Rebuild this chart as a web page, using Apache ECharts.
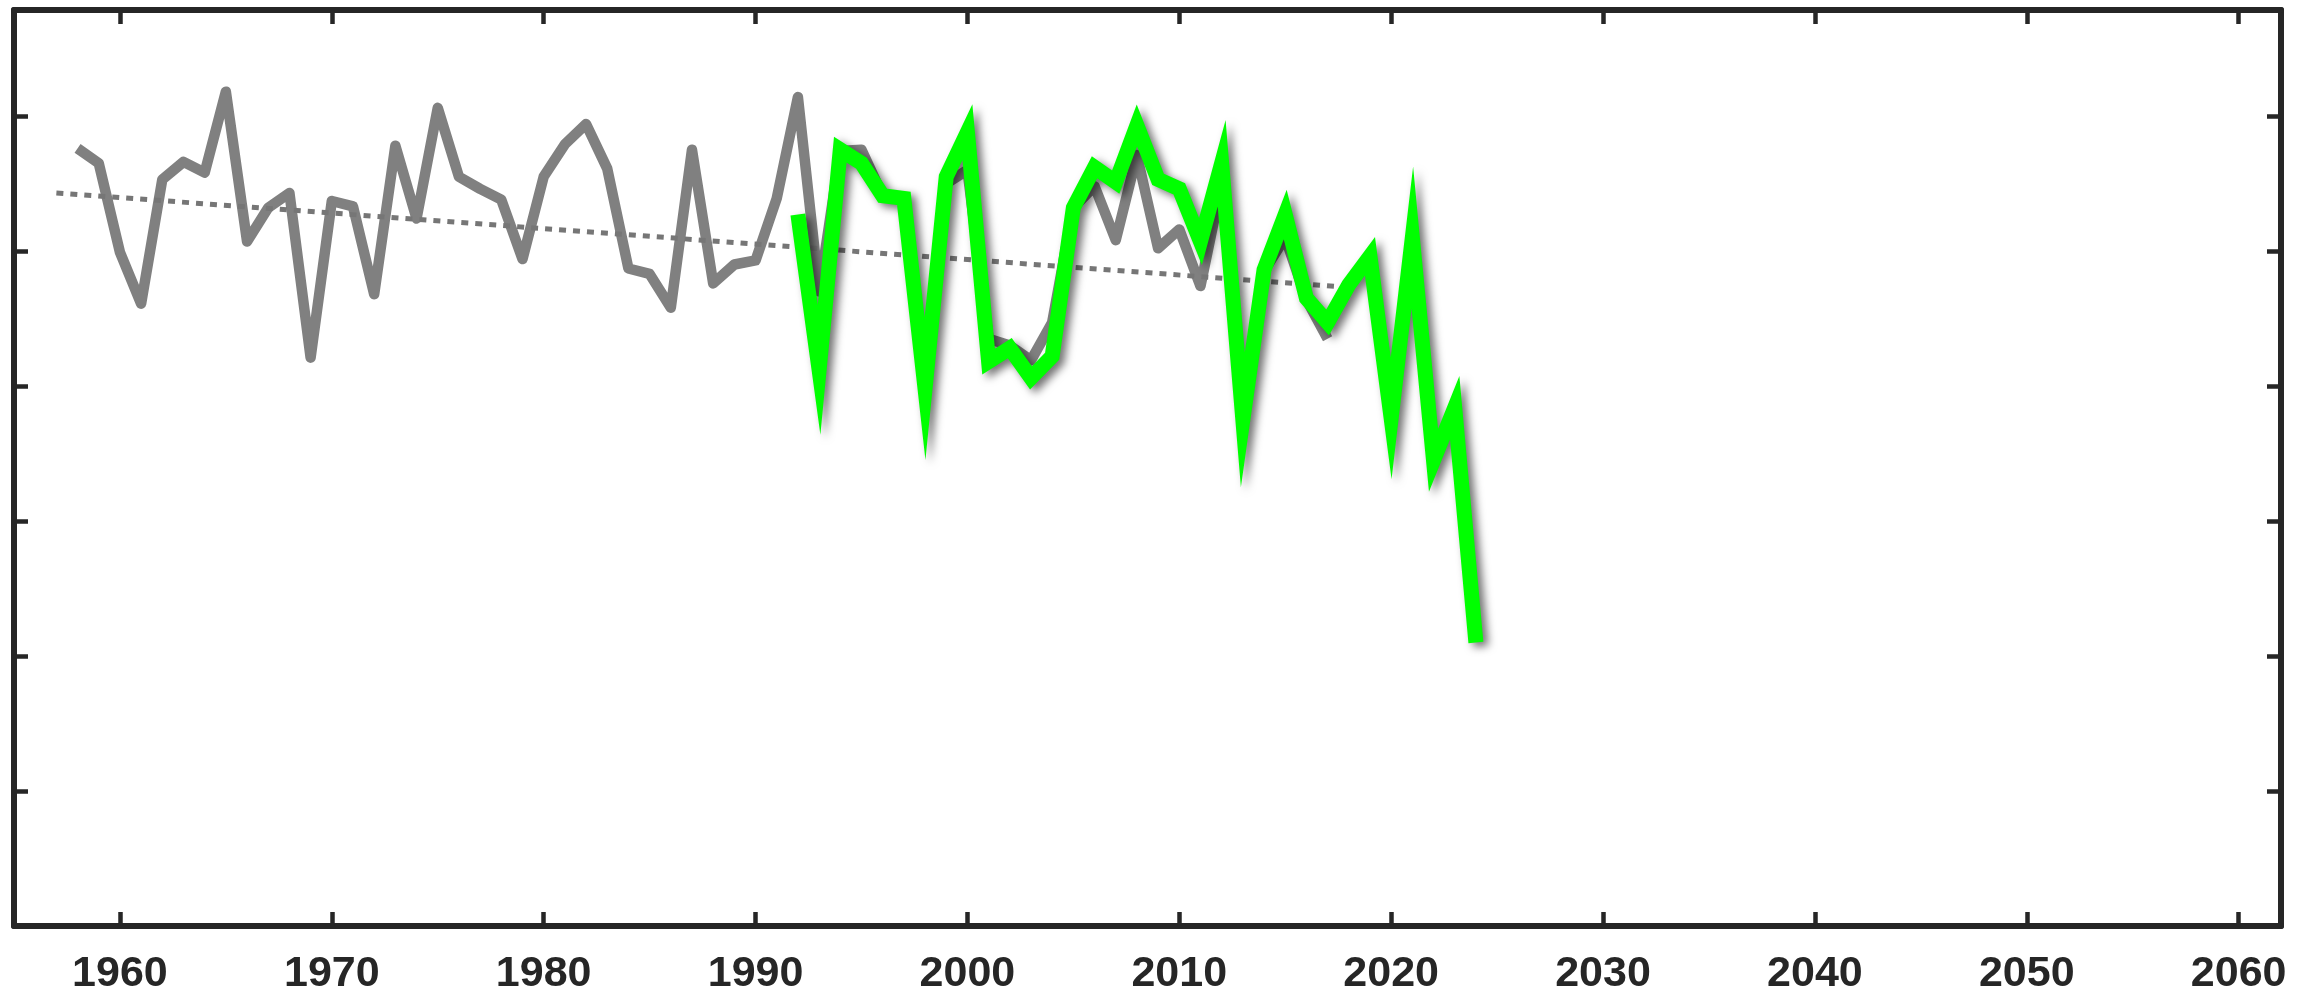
<!DOCTYPE html>
<html>
<head>
<meta charset="utf-8">
<title>chart</title>
<script src="https://cdn.jsdelivr.net/npm/echarts@6/dist/echarts.min.js"></script>
<style>
  html, body { margin: 0; padding: 0; background: #fff; }
  #main { width: 2310px; height: 996px; }
</style>
</head>
<body>
<div id="main"></div>
<script>
"use strict";
/**数据**/
var xTicks = [1960, 1970, 1980, 1990, 2000, 2010, 2020, 2030, 2040, 2050, 2060];
var yTicks = [1, 2, 3, 4, 5, 6];

// grey record, one value per year from 1958
var grayFirstYear = 1958;
var grayValues = [
  5.76, 5.65, 4.99, 4.61, 5.53, 5.66, 5.58, 6.18, 5.07, 5.32,
  5.43, 4.21, 5.37, 5.33, 4.68, 5.78, 5.24, 6.06, 5.55, 5.46,
  5.38, 4.94, 5.55, 5.79, 5.94, 5.61, 4.87, 4.83, 4.58, 5.75,
  4.76, 4.90, 4.93, 5.39, 6.14, 4.70, 5.74, 5.75, 5.41, 5.39,
  4.00, 5.50, 5.60, 4.35, 4.30, 4.19, 4.47, 5.32, 5.48, 5.08,
  5.71, 5.02, 5.16, 4.74, 5.50, 3.80, 4.85, 5.10, 4.64, 4.35
];

// green record, one value per year from 1992
var greenFirstYear = 1992;
var greenValues = [
  5.27, 4.12, 5.75, 5.65, 5.41, 5.39, 3.98, 5.55, 5.88, 4.18,
  4.28, 4.06, 4.22, 5.32, 5.62, 5.51, 5.93, 5.53, 5.46, 5.07,
  5.65, 3.75, 4.86, 5.27, 4.65, 4.47, 4.75, 4.96, 3.76, 5.10,
  3.45, 3.84, 2.10
];

// dotted trend line end points
var trendYears = [1957, 2018];
var trendValues = [5.43, 4.73];

function toPairs(firstYear, values) {
  return values.map(function (v, i) { return [firstYear + i, v]; });
}

var axisColor = "#262626";
var fontFamily = "'Liberation Sans', Arial, sans-serif";

function xAxisCfg(pos, showLabel) {
  return {
    type: "value", position: pos, min: 1955, max: 2062,
    axisLine: {show: true, onZero: false, lineStyle: {color: axisColor, width: 6}},
    axisTick: {show: true, inside: true, length: 14, customValues: xTicks,
      lineStyle: {color: axisColor, width: 4.5}},
    axisLabel: {show: showLabel, customValues: xTicks, margin: 27,
      fontSize: 43, fontWeight: "bold", fontFamily: fontFamily, color: axisColor,
      formatter: function (v) { return String(v); }},
    splitLine: {show: false}
  };
}

function yAxisCfg(pos) {
  return {
    type: "value", position: pos, min: 0, max: 6.785,
    axisLine: {show: true, onZero: false, lineStyle: {color: axisColor, width: 6}},
    axisTick: {show: true, inside: true, length: 14, customValues: yTicks,
      lineStyle: {color: axisColor, width: 4.5}},
    axisLabel: {show: false},
    splitLine: {show: false}
  };
}

var chart = echarts.init(document.getElementById("main"));
chart.setOption({
  animation: false,
  backgroundColor: "#ffffff",
  grid: {left: 14, right: 29, top: 10, bottom: 70},
  xAxis: [xAxisCfg("bottom", true), xAxisCfg("top", false)],
  yAxis: [yAxisCfg("left"), yAxisCfg("right")],
  series: [
    {
      name: "gray", type: "line", showSymbol: false, z: 2,
      data: toPairs(grayFirstYear, grayValues),
      lineStyle: {color: "#808080", width: 10.5, join: "round", cap: "butt"}
    },
    {
      name: "trend", type: "line", showSymbol: false, z: 3,
      data: trendYears.map(function (y, i) { return [y, trendValues[i]]; }),
      lineStyle: {color: "#767676", width: 5, type: [7, 7], cap: "butt"}
    },
    {
      name: "green", type: "line", showSymbol: false, z: 4,
      data: toPairs(greenFirstYear, greenValues),
      lineStyle: {color: "#00ff00", width: 15, join: "miter", miterLimit: 20, cap: "butt",
        shadowColor: "rgba(0,0,0,0.55)", shadowBlur: 8, shadowOffsetX: 5, shadowOffsetY: 4}
    }
  ]
});
</script>
</body>
</html>
